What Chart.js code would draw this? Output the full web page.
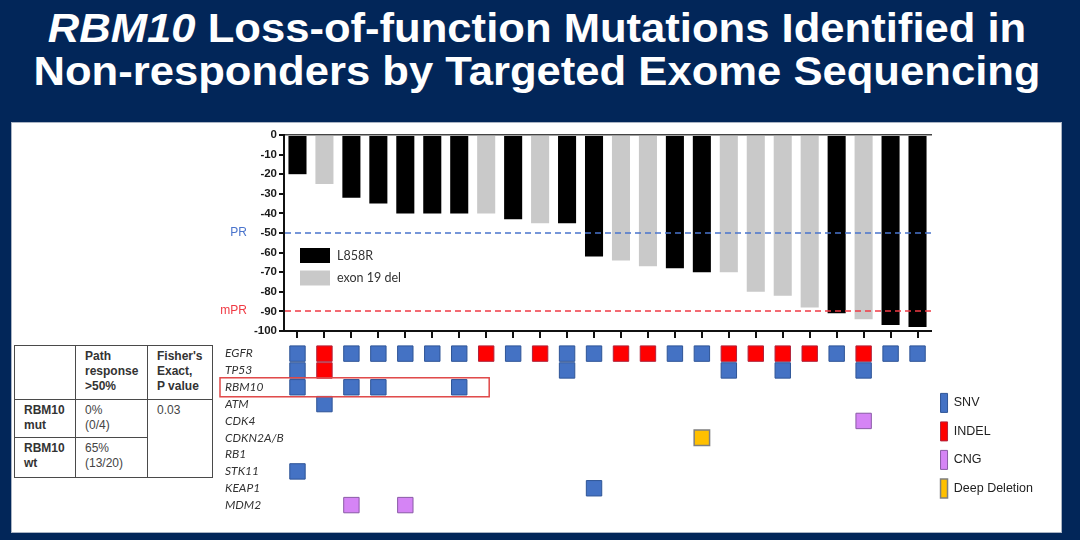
<!DOCTYPE html>
<html><head><meta charset="utf-8">
<script src="https://cdn.jsdelivr.net/npm/chart.js@4.4.0/dist/chart.umd.min.js"></script>
<style>
html,body{margin:0;padding:0;}
body{width:1080px;height:540px;background:#022659;position:relative;overflow:hidden;font-family:"Liberation Sans",Arial,sans-serif;}
#title{position:absolute;left:-3px;top:6.6px;width:1080px;text-align:center;color:#fff;font-weight:bold;font-size:40px;line-height:43px;transform:scaleX(1.09);transform-origin:540px 0;white-space:nowrap;}
#panel{position:absolute;left:11px;top:122px;width:1051px;height:411px;background:#fff;border:1px solid #aab4c4;box-sizing:border-box;}
#tbl{position:absolute;left:14px;top:345px;border-collapse:collapse;table-layout:fixed;width:198px;font-size:12px;line-height:15px;color:#444;}
#tbl td{border:1.5px solid #4a4a4a;vertical-align:top;padding:3px 4px 2px 9px;overflow:hidden;}
#tbl td.b{font-weight:bold;color:#333;}
#bars{position:absolute;left:210px;top:125px;}
#onco{position:absolute;left:210px;top:338px;}
</style></head>
<body>
<div id="title"><i>RBM10</i> Loss-of-function Mutations Identified in<br>Non-responders by Targeted Exome Sequencing</div>
<div id="panel"></div>
<table id="tbl"><colgroup><col style="width:61px"><col style="width:72px"><col style="width:65px"></colgroup><tbody id="tb"></tbody></table>
<canvas id="bars" width="730" height="220"></canvas>
<canvas id="onco" width="850" height="185"></canvas>
<script>
// ---------- data ----------
const patients = ['P1','P2','P3','P4','P5','P6','P7','P8','P9','P10','P11','P12','P13','P14','P15','P16','P17','P18','P19','P20','P21','P22','P23','P24'];
const bestResponse = [-20,-25,-32,-35,-40,-40,-40,-40,-43,-45,-45,-62,-64,-67,-68,-70,-70,-80,-82,-88,-91,-94,-97,-98];
const egfrSubtype = ['L858R','exon 19 del','L858R','L858R','L858R','L858R','L858R','exon 19 del','L858R','exon 19 del','L858R','L858R','exon 19 del','exon 19 del','L858R','L858R','exon 19 del','exon 19 del','exon 19 del','exon 19 del','L858R','exon 19 del','L858R','L858R'];
const subtypeNames = ['L858R','exon 19 del'];
const yTicksMin = -100, yTicksMax = 0, yTickStep = 10;
const thresholdValues = [-50, -90];
const thresholdLabels = ['PR', 'mPR'];

const genes = ['EGFR','TP53','RBM10','ATM','CDK4','CDKN2A/B','RB1','STK11','KEAP1','MDM2'];
const alterationTypes = ['SNV','INDEL','CNG','Deep Deletion'];
// [patient number, gene]
const snvCalls = [[1,'EGFR'],[3,'EGFR'],[4,'EGFR'],[5,'EGFR'],[6,'EGFR'],[7,'EGFR'],[9,'EGFR'],[11,'EGFR'],[12,'EGFR'],[15,'EGFR'],[16,'EGFR'],[21,'EGFR'],[23,'EGFR'],[24,'EGFR'],
  [1,'TP53'],[11,'TP53'],[17,'TP53'],[19,'TP53'],[22,'TP53'],
  [1,'RBM10'],[3,'RBM10'],[4,'RBM10'],[7,'RBM10'],
  [2,'ATM'],[1,'STK11'],[12,'KEAP1']];
const indelCalls = [[2,'EGFR'],[8,'EGFR'],[10,'EGFR'],[13,'EGFR'],[14,'EGFR'],[17,'EGFR'],[18,'EGFR'],[19,'EGFR'],[20,'EGFR'],[22,'EGFR'],[2,'TP53']];
const cngCalls = [[22,'CDK4'],[3,'MDM2'],[5,'MDM2']];
const deepDelCalls = [[16,'CDKN2A/B']];
const highlightGene = 'RBM10';
const highlightLastPatient = 'P8';

const tableHeader = [[], ['Path','response','>50%'], ["Fisher's",'Exact,','P value']];
const rowLabels = [['RBM10','mut'], ['RBM10','wt']];
const pathResponse = [['0%','(0/4)'], ['65%','(13/20)']];
const fisherP = ['0.03'];

// ---------- table ----------
function cell(lines, cls, rowspan){
  const td = document.createElement('td');
  if (cls) td.className = cls;
  if (rowspan) td.rowSpan = rowspan;
  lines.forEach((t,i)=>{ if(i) td.appendChild(document.createElement('br')); td.appendChild(document.createTextNode(t)); });
  return td;
}
const tb = document.getElementById('tb');
const hr = document.createElement('tr'); hr.style.height='54px';
tableHeader.forEach(h=>hr.appendChild(cell(h,'b')));
tb.appendChild(hr);
rowLabels.forEach((lab,i)=>{
  const tr = document.createElement('tr'); tr.style.height = i===0 ? '38px' : '40px';
  tr.appendChild(cell(lab,'b'));
  tr.appendChild(cell(pathResponse[i]));
  if (i===0) tr.appendChild(cell(fisherP, null, rowLabels.length));
  tb.appendChild(tr);
});

// ---------- charts ----------
Chart.defaults.font.family = '"Liberation Sans", Arial, sans-serif';
const subtypeColors = {'L858R':'#000000','exon 19 del':'#c9c9c9'};
const thresholdColors = ['#4a74cc','#f03a44'];

const refLines = {
  id:'refLines',
  afterDatasetsDraw(chart){
    const {ctx, chartArea:a, scales:{y}} = chart;
    thresholdValues.forEach((v,i)=>{
      const py = Math.round(y.getPixelForValue(v));
      ctx.save();
      ctx.strokeStyle = thresholdColors[i]; ctx.lineWidth = 1.4; ctx.setLineDash([6,4]);
      ctx.beginPath(); ctx.moveTo(a.left+1, py); ctx.lineTo(a.right, py); ctx.stroke();
      ctx.setLineDash([]);
      ctx.fillStyle = thresholdColors[i]; ctx.font = '12px "Liberation Sans", Arial';
      ctx.textAlign = 'right'; ctx.textBaseline = 'middle';
      ctx.fillText(thresholdLabels[i], a.left-37, py);
      ctx.restore();
    });
  }
};
const innerLegend = {
  id:'innerLegend',
  afterDraw(chart){
    const {ctx, chartArea:a} = chart;
    chart.data.datasets.forEach((ds,i)=>{
      const x = a.left+16, y = a.top+113+i*22.5;
      ctx.save();
      ctx.fillStyle = ds.backgroundColor; ctx.fillRect(x, y, 30, 15);
      ctx.fillStyle = '#333'; ctx.font = '12.5px Lato, "Open Sans", sans-serif';
      ctx.textAlign = 'left'; ctx.textBaseline = 'middle';
      ctx.fillText(ds.label, x+37, y+7.5);
      ctx.restore();
    });
  }
};

new Chart(document.getElementById('bars'), {
  type:'bar',
  data:{
    labels: patients,
    datasets: subtypeNames.map(name=>({
      label: name,
      data: bestResponse.map((v,i)=> egfrSubtype[i]===name ? v : null),
      backgroundColor: subtypeColors[name],
      skipNull: true,
      barPercentage: 0.67,
      categoryPercentage: 1
    }))
  },
  options:{
    responsive:false, animation:false, devicePixelRatio:1,
    layout:{padding:{top:10,right:9,left:0,bottom:0}},
    plugins:{legend:{display:false}, tooltip:{enabled:false}},
    scales:{
      x:{position:'bottom',
         grid:{display:true, drawOnChartArea:false, drawTicks:true, tickLength:7, offset:false, color:'#111', lineWidth:2},
         border:{display:true, color:'#111', width:2},
         ticks:{display:false, autoSkip:false},
         afterFit(s){ s.height = 14; }},
      xTop:{type:'category', position:'top', grid:{display:false}, ticks:{display:false},
         border:{display:true, color:'#444', width:1.5},
         afterFit(s){ s.height = 0; }},
      y:{min:yTicksMin, max:yTicksMax,
         ticks:{stepSize:yTickStep, color:'#1a1a1a', padding:2, font:{size:11.5, weight:'bold'}},
         grid:{drawOnChartArea:false, drawTicks:true, tickLength:5, color:'#111', lineWidth:2},
         border:{display:true, color:'#111', width:2},
         afterFit(s){ s.width = 74; }}
    }
  },
  plugins:[refLines, innerLegend]
});

const typeStyle = {
  'SNV':{bg:'#4472c4', border:'#2f5597', bw:1},
  'INDEL':{bg:'#ff0000', border:'#b0243c', bw:1},
  'CNG':{bg:'#d584f5', border:'#8a5ba6', bw:1},
  'Deep Deletion':{bg:'#ffc000', border:'#7f7f7f', bw:1.5}
};
const callsByType = {'SNV':snvCalls, 'INDEL':indelCalls, 'CNG':cngCalls, 'Deep Deletion':deepDelCalls};

const highlight = {
  id:'highlight',
  afterDraw(chart){
    const {ctx, scales:{x,y}} = chart;
    const py = y.getPixelForValue(genes.indexOf(highlightGene));
    const xr = x.getPixelForValue(patients.indexOf(highlightLastPatient)) + 3;
    ctx.save();
    ctx.strokeStyle = '#e04848'; ctx.lineWidth = 1.5;
    ctx.strokeRect(10, py-9.5, xr-10, 19);
    ctx.restore();
  }
};

function makeOnco(canvas){
  return new Chart(canvas, {
    type:'scatter',
    data:{
      datasets: alterationTypes.map(t=>({
        label: t,
        data: callsByType[t].map(([p,g])=>({x:'P'+p, y:g})),
        backgroundColor: typeStyle[t].bg,
        borderColor: typeStyle[t].border,
        borderWidth: typeStyle[t].bw,
        pointStyle:'rect', pointRadius:10.9, pointHoverRadius:10.9,
        clip:false
      }))
    },
    options:{
      responsive:false, animation:false, devicePixelRatio:1,
      layout:{autoPadding:false, padding:{left:15, top:5.5, bottom:9.5, right:0}},
      plugins:{
        tooltip:{enabled:false},
        legend:{position:'right', align:'start',
          title:{display:true, text:' ', font:{size:12}, padding:{top:26, bottom:0}},
          labels:{boxWidth:7, boxHeight:19, padding:9.5, color:'#222', font:{size:12.5}}}
      },
      scales:{
        x:{type:'category', labels:patients, offset:true, display:false},
        y:{type:'category', labels:genes, offset:true,
           grid:{display:false}, border:{display:false},
           ticks:{autoSkip:false, crossAlign:'far', padding:0, color:'#333', font:{family:'Lato, "Open Sans", sans-serif', size:12, style:'italic'}},
           afterFit(s){ s.width = 59; }}
      }
    },
    plugins:[highlight]
  });
}
const oc = document.getElementById('onco');
let onco = makeOnco(oc);
const targetRight = 931 - 210;
const delta = targetRight - onco.chartArea.right;
if (Math.abs(delta) > 0.5) {
  onco.destroy();
  oc.width = Math.round(oc.width + delta);
  oc.height = 185;
  oc.style.width = oc.width + 'px'; oc.style.height = '185px';
  onco = makeOnco(oc);
}
</script>
</body></html>
